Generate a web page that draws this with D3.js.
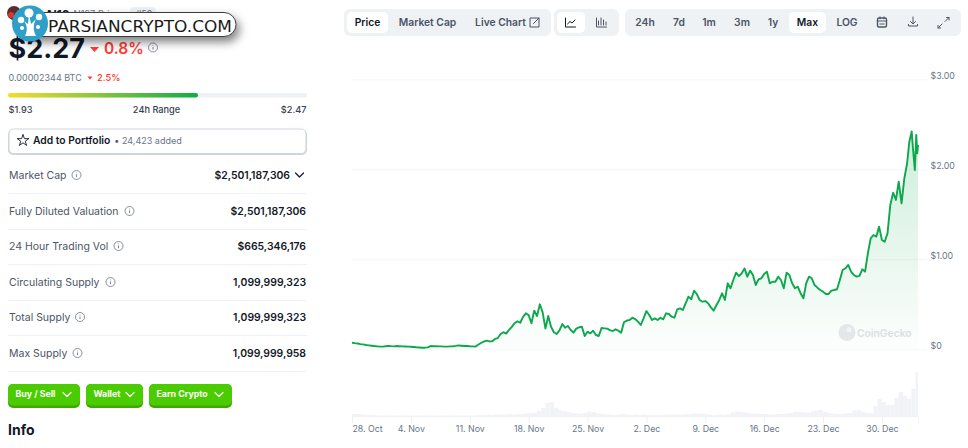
<!DOCTYPE html>
<html>
<head>
<meta charset="UTF-8">
<script src="https://d3js.org/d3.v7.min.js"></script>
<style>
  html,body {margin:0;padding:0;background:#fff;overflow:hidden;}
  svg {display:block;font-family:Inter,'Noto Sans',sans-serif;}
</style>
</head>
<body>
<svg id="page" width="968" height="448"></svg>
<script>
// price in USD, one reading every 8 hours from 28 Oct
const priceValues=[
  .073,.068,.064,.058,.055,.048,.044,.04,.036,.033,
  .03,.03,.034,.038,.035,.033,.036,.034,.032,.031,
  .03,.028,.025,.022,.02,.018,.018,.022,.036,.034,
  .034,.032,.032,.03,.03,.032,.034,.038,.044,.04,
  .036,.036,.034,.033,.03,.05,.07,.085,.096,.088,
  .09,.115,.125,.17,.19,.175,.215,.25,.29,.31,
  .295,.36,.4,.38,.29,.43,.37,.5,.41,.23,
  .37,.25,.19,.17,.21,.28,.24,.259,.214,.185,
  .23,.245,.25,.148,.196,.177,.207,.159,.148,.236,
  .233,.23,.214,.203,.222,.207,.185,.3,.318,.326,
  .351,.336,.307,.27,.344,.425,.381,.326,.344,.326,
  .351,.333,.4,.392,.362,.351,.444,.455,.437,.511,
  .585,.555,.651,.614,.548,.529,.536,.511,.466,.429,
  .492,.548,.622,.548,.733,.677,.77,.851,.814,.844,
  .899,.807,.874,.826,.714,.777,.788,.836,.862,.733,
  .751,.751,.807,.77,.678,.852,.826,.733,.678,.696,
  .622,.567,.733,.807,.789,.714,.685,.659,.641,.615,
  .615,.652,.659,.667,.77,.881,.9,.937,.863,.826,
  .807,.815,.889,.863,1.067,1.233,1.27,1.252,1.363,1.215,
  1.196,1.289,1.604,1.74,1.66,1.863,1.622,1.9
];
// last stretch is read at finer spacing: hours after the start, price
const tailHours=[1584,1590,1597,1601,1606,1610,1613,1615];
const tailValues=[2.067,2.3,2.42,2.215,1.993,2.381,2.178,2.27];
// 24h volume in USD millions, one reading every 12 hours
const volumeValues=[
  44,44,33,22,22,22,11,11,9,9,11,9,9,7,9,9,11,9,9,9,7,9,11,9,9,11,11,13,11,15,
  22,22,33,22,33,33,33,44,33,44,44,55,66,66,110,176,286,308,176,132,
  110,88,66,55,44,66,99,88,55,44,33,33,22,33,44,33,22,33,22,33,
  22,22,22,22,33,33,33,33,33,44,44,55,55,55,33,22,22,33,22,44,
  77,99,88,77,66,55,55,44,44,33,33,44,44,55,66,88,88,77,77,99,
  121,132,88,66,55,44,44,55,66,121,132,99,66,66,220,374,308,242,242,396,
  528,440,374,600,968
];
const tickDates=["2024-10-28","2024-11-04","2024-11-11","2024-11-18","2024-11-25","2024-12-02","2024-12-09","2024-12-16","2024-12-23","2024-12-30"];
const priceTicks=[0,1,2,3];

const sidebarRows=["Market Cap","Fully Diluted Valuation","24 Hour Trading Vol","Circulating Supply","Total Supply","Max Supply"];
const sidebarValues=["$2,501,187,306","$2,501,187,306","$665,346,176","1,099,999,323","1,099,999,323","1,099,999,958"];
const actionLabels=["Buy / Sell","Wallet","Earn Crypto"];
const rangeLabels=["$1.93","24h Range","$2.47"];
const viewTabs=["Price","Market Cap","Live Chart"];
const periodTabs=["24h","7d","1m","3m","1y","Max","LOG"];

const svg=d3.select("#page");
const ink="#111827",muted="#4b5565",soft="#697586",panel="#eff2f5",red="#ff3a33",green="#0ca84c";

const start=new Date("2024-10-28T00:00:00");
const hourDate=h => new Date(+start+h*36e5);
const pricePoints=priceValues.map((v,i) => ({t:hourDate(i*8),v}))
  .concat(tailHours.map((h,i) => ({t:hourDate(h),v:tailValues[i]})));

const x=d3.scaleTime().domain([start,hourDate(1615)]).range([352,918]);
const y=d3.scaleLinear().domain([0,3]).range([349.3,79.3]);
const yVol=d3.scaleLinear().domain([0,1012]).range([416,370]);

const defs=svg.append("defs");
const areaGrad=defs.append("linearGradient").attr("id","areaGrad")
  .attr("gradientUnits","userSpaceOnUse").attr("x1",0).attr("x2",0).attr("y1",y(2.42)).attr("y2",y(0));
areaGrad.append("stop").attr("offset","0%").attr("stop-color",green).attr("stop-opacity",.2);
areaGrad.append("stop").attr("offset","100%").attr("stop-color",green).attr("stop-opacity",.01);
const rangeGrad=defs.append("linearGradient").attr("id","rangeGrad");
rangeGrad.append("stop").attr("offset","0%").attr("stop-color","#f6dc2c");
rangeGrad.append("stop").attr("offset","100%").attr("stop-color","#0dad47");
const pillShadow=defs.append("filter").attr("id","pillShadow")
  .attr("x","-10%").attr("y","-50%").attr("width","125%").attr("height","260%");
pillShadow.append("feDropShadow").attr("dx",3).attr("dy",5).attr("stdDeviation",5)
  .attr("flood-color","#000").attr("flood-opacity",.5);

/* ---------- price chart ---------- */
const chart=svg.append("g");

chart.append("g")
  .attr("transform","translate(927,0)")
  .call(d3.axisLeft(y).tickValues(priceTicks).tickSize(575).tickFormat(""))
  .call(g => g.select(".domain").remove())
  .call(g => g.selectAll("line").attr("stroke","#f4f5f7"));

chart.append("g")
  .attr("transform","translate(930.5,-4)")
  .call(d3.axisRight(y).tickValues(priceTicks).tickSize(0).tickPadding(0)
    .tickFormat(d => d === 0 ? "$0" : d3.format("$.2f")(d)))
  .call(g => g.select(".domain").remove())
  .call(g => g.selectAll("text").attr("fill",soft).attr("font-size",8.8).attr("font-family","Inter"));

chart.append("g").selectAll("rect").data(volumeValues).join("rect")
  .attr("x",(d,i) => x(hourDate(i*12)))
  .attr("width",(d,i) => Math.max(0,Math.min(x(hourDate(12))-x(start),918-x(hourDate(i*12)))))
  .attr("y",d => yVol(d))
  .attr("height",d => yVol(0)-yVol(d))
  .attr("fill","#f1f3f7");

const xAxis=chart.append("g")
  .attr("transform","translate(0,416)")
  .call(d3.axisBottom(x).tickValues(tickDates.map(d => new Date(d+"T00:00:00")))
    .tickSize(7).tickPadding(2.5).tickFormat(d3.timeFormat("%-d. %b")));
xAxis.select(".domain").attr("stroke","#f0f2f5");
xAxis.selectAll("line").attr("stroke","#eef0f4");
xAxis.selectAll("text").attr("fill",soft).attr("font-size",8.8).attr("font-family","Inter");
xAxis.select(".tick text").attr("text-anchor","start");

const area=d3.area().x(d => x(d.t)).y0(y(0)).y1(d => y(d.v));
const line=d3.line().x(d => x(d.t)).y(d => y(d.v));
chart.append("path").datum(pricePoints).attr("d",area).attr("fill","url(#areaGrad)");
chart.append("path").datum(pricePoints).attr("d",line)
  .attr("fill","none").attr("stroke",green).attr("stroke-width",1.9).attr("stroke-linejoin","round");

// watermark
const mark=chart.append("g");
mark.append("circle").attr("cx",847).attr("cy",332.5).attr("r",8.5).attr("fill","#e4e7ea");
mark.append("circle").attr("cx",849).attr("cy",329.5).attr("r",2.6).attr("fill","#f2f4f5");
mark.append("text").attr("x",857).attr("y",336.5).attr("font-size",10.3).attr("font-weight",600).attr("fill","#dadfe3").text("CoinGecko");

/* ---------- tab bars ---------- */
const tabs=svg.append("g");
const label=(g,t,cx,active) => g.append("text").attr("x",cx).attr("y",25.8).attr("text-anchor","middle")
  .attr("font-size",10.3).attr("font-weight",600).attr("fill",active ? ink : muted).text(t);
const plate=(g,x0,x1,y0,y1,r,fill) => g.append("rect").attr("x",x0).attr("y",y0).attr("width",x1-x0).attr("height",y1-y0).attr("rx",r).attr("fill",fill);
const stroke=(g,d,c) => g.append("path").attr("d",d).attr("fill","none").attr("stroke",c||muted).attr("stroke-width",1).attr("stroke-linecap","round").attr("stroke-linejoin","round");

plate(tabs,344,551,9,36,6,panel);
plate(tabs,347,388,12,33,5,"#fff");
[367.5,427.5,500.5].forEach((cx,i) => label(tabs,viewTabs[i],cx,i===0));
stroke(tabs,"M535 18h-5v9h9v-5M533.5 23.5L539 18M535.5 18H539v3.5");

plate(tabs,554,619,9,36,6,panel);
plate(tabs,557,585,12,33,5,"#fff");
stroke(tabs,"M565.500 18v9h10M567.500 24l2.500-2.500 2 1.500 3-3",ink);
stroke(tabs,"M596.500 18v9h10M598.500 25v-4M601 25v-7M603.500 25v-5M606 25v-3");

plate(tabs,625,961,9,36,6,panel);
plate(tabs,789,826,12,33,5,"#fff");
[645,679,709,742,773,807.5,847].forEach((cx,i) => label(tabs,periodTabs[i],cx,i===5));
plate(tabs,877.5,886.5,18,27,1.5,"none").attr("stroke",muted).attr("stroke-width",1.4);
stroke(tabs,"M877.500 21h9M880 16.800v2M884 16.800v2M879.800 24h4.400");
stroke(tabs,"M913 17v6.500M910.500 21.500l2.500 2.500 2.500-2.500M908.500 24.500v1.500h9v-1.500");
stroke(tabs,"M945 21.500l4-4M946.500 17.500h2.500v2.500M942 24l-4 4M940.500 28h-2.500v-2.500");

/* ---------- sidebar ---------- */
const side=svg.append("g");
const txt=(t,px,py,size,weight,fill,anchor) => side.append("text").attr("x",px).attr("y",py)
  .attr("font-size",size).attr("font-weight",weight).attr("fill",fill).attr("text-anchor",anchor||"start").text(t);
const info=(cx,cy) => {
  side.append("circle").attr("cx",cx).attr("cy",cy).attr("r",4.5).attr("fill","none").attr("stroke",soft).attr("stroke-width",.8);
  side.append("path").attr("d",`M${cx} ${cy-.5}v2.600M${cx} ${cy-2.300}v.6`).attr("stroke",soft).attr("stroke-width",.9);
};
const caret=(x0,y0,w,h) => side.append("path").attr("d",`M${x0} ${y0}h${w}l${-w/2} ${h}z`).attr("fill",red);
const chevron=(cx,cy,c) => side.append("path").attr("d",`M${cx-4} ${cy-2}l4 4 4-4`).attr("fill","none").attr("stroke",c).attr("stroke-width",1.2).attr("stroke-linecap","round").attr("stroke-linejoin","round");

// title row, mostly covered by the watermark pill
side.append("circle").attr("cx",14).attr("cy",13).attr("r",7).attr("fill","#5c2b2b");
side.append("circle").attr("cx",11).attr("cy",15).attr("r",3).attr("fill","#d8392f");
txt("AI16z",45,19,11.500,700,ink);
txt("AI16Z Price",72,17,9,400,soft);
plate(side,130,156,7,20,4,panel);
txt("#50",136,17,8.500,500,soft);

txt("$2.27",8.5,58,27,700,ink);
caret(90,47,9,5);
txt("0.8%",104,54,15.500,600,red);
info(153,47.5);

txt("0.00002344 BTC",8.5,81,9,400,soft);
caret(87.500,76.500,5,3);
txt("2.5%",97,81,9.300,500,red);

plate(side,8,307,93,97.500,2.200,panel);
plate(side,8,198,93,97.500,2.200,"url(#rangeGrad)");
txt(rangeLabels[0],8.500,113,9.200,500,"#364152");
txt(rangeLabels[1],156.500,113,9.200,500,"#364152","middle");
txt(rangeLabels[2],306.500,113,9.200,500,"#364152","end");

plate(side,8,307,130,155,5,"#cdd5df");
plate(side,9,306,129,153.500,4.500,"#fff").attr("stroke","#cdd5df").attr("stroke-width",1);
side.append("path").attr("d",d3.symbol(d3.symbolStar,42)()).attr("transform","translate(23,140.5)")
  .attr("fill","none").attr("stroke",ink).attr("stroke-width",.9);
txt("Add to Portfolio",33,144,10.300,600,ink);
txt("•",114.500,144,9,600,muted);
txt("24,423 added",122,144,9,400,soft);

const rowY=[175,211,246,282,317,353];
const ruleY=[193.500,229.500,264.500,300.500,335.500,371.500];
const infoX=[76.500,129.500,118.500,110.500,80,77.500];
sidebarRows.forEach((r,i) => {
  txt(r,9,rowY[i]+3.500,10.500,400,muted);
  info(infoX[i],rowY[i]);
  txt(sidebarValues[i],i===0 ? 290 : 306,rowY[i]+3.500,10.400,600,ink,"end");
  side.append("line").attr("x1",8).attr("x2",307).attr("y1",ruleY[i]).attr("y2",ruleY[i]).attr("stroke","#eff2f5");
});
chevron(299.500,175,ink);

const btnX=[[8,80],[86,143],[149,232]];
actionLabels.forEach((t,i) => {
  const [x0,x1]=btnX[i];
  plate(side,x0,x1,384,408,5,"#3fa800");
  plate(side,x0,x1,384,405.500,5,"#4bcc00");
  txt(t,x0+7.500,397.300,8.800,700,"#fff");
  chevron(x1-13,394.500,"#fff");
});
txt("Info",8,435,14,700,ink);

/* ---------- watermark pill over the header ---------- */
const pill=svg.append("g");
pill.append("rect").attr("x",16).attr("y",12.500).attr("width",220).attr("height",24).attr("rx",12)
  .attr("fill","#fff").attr("stroke","#3c3c3c").attr("stroke-width",1).attr("filter","url(#pillShadow)");
pill.append("text").attr("x",48).attr("y",31.500).attr("font-size",16.500).attr("font-family","'DejaVu Sans',sans-serif")
  .attr("fill","#1b1b1b").attr("textLength",184).attr("lengthAdjust","spacingAndGlyphs").text("PARSIANCRYPTO.COM");
pill.append("circle").attr("cx",30).attr("cy",23.500).attr("r",18).attr("fill","#2d9fc9");
pill.append("path").attr("d","M25 36C28 30 27 25 24 21L28 24 29 14 31 24 36 19C33 25 33 30 36 36Z").attr("fill","#fff");
[[29,13,4.500],[21,20,3.200],[39,17,3.200],[22,28,2],[38,27,2]].forEach(c => {
  pill.append("circle").attr("cx",c[0]).attr("cy",c[1]).attr("r",c[2]).attr("fill","#fff");
});
</script>
</body>
</html>
